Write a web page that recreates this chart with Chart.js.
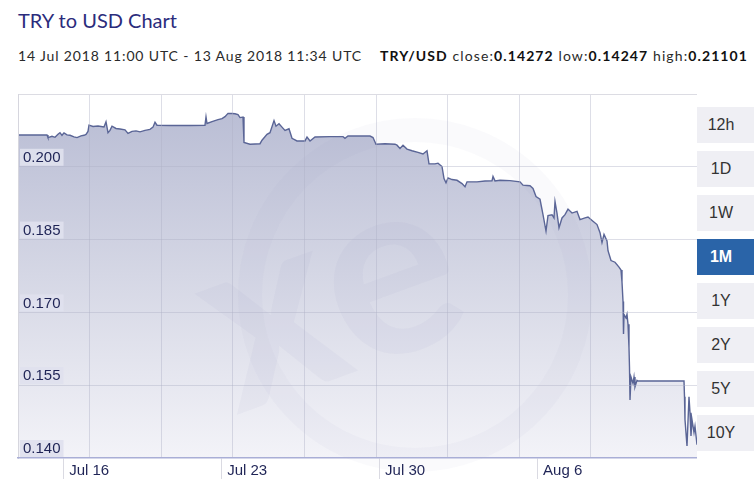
<!DOCTYPE html>
<html><head><meta charset="utf-8">
<script src="https://cdn.jsdelivr.net/npm/chart.js@4.4.1/dist/chart.umd.min.js"></script>
<style>
html,body{margin:0;padding:0;background:#fff;}
#wrap{position:relative;width:754px;height:491px;overflow:hidden;font-family:Lato,"Open Sans",sans-serif;}
#title{position:absolute;left:18px;top:8px;font-size:20px;line-height:24px;color:#2b2c7c;white-space:nowrap;}
.sub{position:absolute;top:47px;font-size:14px;line-height:18px;color:#2a2a2a;white-space:nowrap;}
#range{left:18px;}
#stats{left:380px;}
#stats b{color:#111;font-weight:700;}
#cv{position:absolute;left:0;top:80px;}
.btn{position:absolute;left:697px;width:70px;height:36px;background:#efeff4;font-family:"Liberation Sans",Arial,sans-serif;font-size:16px;color:#333;}
.btn span{display:block;width:48px;text-align:center;line-height:36px;}
.btn.active{background:#2a64a8;color:#fff;font-weight:bold;}
</style></head>
<body>
<div id="wrap">
  <div id="title" data-w="159">TRY to USD Chart</div>
  <div id="range" class="sub" data-w="344">14 Jul 2018 11:00 UTC - 13 Aug 2018 11:34 UTC</div>
  <div id="stats" class="sub" data-w="368"><b>TRY/USD</b> close:<b>0.14272</b> low:<b>0.14247</b> high:<b>0.21101</b></div>
  <canvas id="cv" width="697" height="411"></canvas>
  <div id="btns"></div>
</div>
<script>
// ---- data (days since chart start, TRY/USD rate) ----
const dayOffsets = [0,1.285,1.329,1.506,1.639,1.772,1.861,1.949,2.038,2.171,2.304,2.481,2.614,2.791,2.924,3.013,3.101,3.146,3.323,3.545,3.810,3.899,3.988,4.076,4.165,4.342,4.519,4.741,4.874,5.051,5.228,5.405,5.627,5.848,5.981,6.070,6.159,6.735,7.621,8.285,8.330,8.374,8.596,8.861,9.039,9.171,9.304,9.482,9.615,9.748,9.836,9.969,10.013,10.279,10.722,10.811,11.032,11.165,11.343,11.431,11.564,11.697,11.830,12.007,12.140,12.362,12.716,12.805,12.938,13.159,13.824,14.400,14.488,14.621,15.596,15.729,15.862,16.261,16.704,16.792,16.925,17.058,17.235,17.457,17.722,17.944,18.122,18.210,18.476,18.609,18.786,18.875,18.963,19.052,19.229,19.451,19.672,19.805,19.894,20.337,20.691,21.001,21.046,21.134,21.356,21.799,22.242,22.375,22.552,22.685,22.818,22.951,23.128,23.261,23.394,23.482,23.660,23.748,23.793,23.881,23.970,24.103,24.236,24.369,24.546,24.767,24.900,25.122,25.255,25.476,25.654,25.787,25.875,25.964,26.097,26.141,26.274,26.451,26.628,26.717,26.761,26.806,26.828,26.850,26.939,26.983,27.027,27.071,27.093,27.116,27.160,27.248,27.293,27.337,27.426,27.470,29.508,29.530,29.552,29.641,29.729,29.774,29.818,29.862,29.951,29.995,30.084];
const rates = [0.20655,0.20655,0.20602,0.20628,0.20608,0.20669,0.20703,0.20649,0.20699,0.20659,0.20649,0.20618,0.20602,0.20638,0.20649,0.20669,0.20730,0.20857,0.20831,0.20841,0.20821,0.20926,0.20703,0.20750,0.20837,0.20790,0.20780,0.20760,0.20689,0.20730,0.20740,0.20720,0.20750,0.20770,0.20817,0.20918,0.20857,0.20851,0.20851,0.20857,0.21028,0.20892,0.20932,0.20973,0.20993,0.21034,0.21101,0.21098,0.21092,0.21074,0.21014,0.21024,0.20501,0.20466,0.20476,0.20547,0.20669,0.20703,0.20953,0.20837,0.20886,0.20817,0.20750,0.20784,0.20588,0.20533,0.20533,0.20614,0.20533,0.20614,0.20622,0.20622,0.20588,0.20634,0.20634,0.20602,0.20466,0.20476,0.20466,0.20446,0.20379,0.20446,0.20365,0.20330,0.20298,0.20264,0.20330,0.20061,0.20061,0.20075,0.20006,0.19757,0.19670,0.19771,0.19737,0.19722,0.19655,0.19589,0.19690,0.19690,0.19706,0.19710,0.19803,0.19710,0.19722,0.19716,0.19690,0.19621,0.19615,0.19609,0.19554,0.19386,0.19331,0.19013,0.18676,0.18993,0.19013,0.18946,0.19284,0.19047,0.18743,0.18946,0.19013,0.19128,0.19047,0.19082,0.18912,0.18946,0.18966,0.18879,0.18810,0.18642,0.18439,0.18607,0.18474,0.18271,0.18068,0.18034,0.17933,0.17872,0.17628,0.17223,0.16554,0.16960,0.16885,0.16960,0.16757,0.16276,0.15871,0.15196,0.15668,0.15535,0.15668,0.15466,0.15601,0.15587,0.15587,0.15263,0.14790,0.14247,0.15263,0.14933,0.14452,0.14790,0.14527,0.14655,0.14272];
const xTickDays = [2, 9, 16, 23];
const xTickLabels = ['Jul 16', 'Jul 23', 'Jul 30', 'Aug 6'];
const yTickValues = [0.140, 0.155, 0.170, 0.185, 0.200];
const yTickLabels = ['0.140', '0.155', '0.170', '0.185', '0.200'];
const rangeButtons = ['12h', '1D', '1W', '1M', '1Y', '2Y', '5Y', '10Y'];
const activeButton = '1M';

// ---- header text fitting ----
document.querySelectorAll('[data-w]').forEach(el => {
  const target = +el.dataset.w;
  const n = el.textContent.length;
  const cur = el.getBoundingClientRect().width;
  el.style.letterSpacing = ((target - cur) / n) + 'px';
});

// ---- buttons ----
const btns = document.getElementById('btns');
rangeButtons.forEach((b, i) => {
  const d = document.createElement('div');
  d.className = 'btn' + (b === activeButton ? ' active' : '');
  d.style.top = (107 + i * 44) + 'px';
  d.innerHTML = '<span>' + b + '</span>';
  btns.appendChild(d);
});

const gridColor = 'rgba(175,177,198,0.42)';

const watermark = {
  id: 'watermark',
  afterDatasetsDraw(chart) {
    const {ctx} = chart;
    ctx.save();
    ctx.beginPath();
    ctx.arc(415, 215, 165, 0, Math.PI * 2);
    ctx.lineWidth = 24;
    ctx.strokeStyle = 'rgba(130,135,180,0.045)';
    ctx.stroke();
    ctx.translate(330, 215);
    ctx.rotate(-0.35);
    ctx.font = 'bold 250px Lato, sans-serif';
    ctx.fillStyle = 'rgba(130,135,180,0.06)';
    ctx.textAlign = 'center';
    ctx.textBaseline = 'middle';
    ctx.fillText('xe', 0, 0);
    ctx.restore();
  }
};

new Chart(document.getElementById('cv'), {
  type: 'line',
  data: {
    datasets: [{
      data: dayOffsets.map((d, i) => ({x: d, y: rates[i]})),
      borderColor: '#5a6596',
      borderWidth: 1.4,
      pointRadius: 0,
      tension: 0,
      fill: 'start',
      backgroundColor: (c) => {
        const a = c.chart.chartArea;
        if (!a) return 'rgba(190,193,215,0.8)';
        const g = c.chart.ctx.createLinearGradient(0, a.top, 0, a.bottom);
        g.addColorStop(0, 'rgb(183,187,211)');
        g.addColorStop(0.5, 'rgb(213,215,229)');
        g.addColorStop(1, 'rgb(243,243,248)');
        return g;
      }
    }]
  },
  options: {
    responsive: false,
    devicePixelRatio: 1,
    animation: false,
    layout: {padding: {left: 8, top: 9, right: 0, bottom: 0}},
    plugins: {legend: {display: false}, tooltip: {enabled: false}, title: {display: false}},
    scales: {
      x: {
        type: 'linear', position: 'bottom', min: 0, max: 30.084,
        afterBuildTicks: s => { s.ticks = xTickDays.map(v => ({value: v})); },
        afterFit: s => { s.height = 33; },
        ticks: {
          align: 'start', labelOffset: 6, padding: -17, maxRotation: 0, autoSkip: false,
          font: {family: 'Liberation Sans', size: 15}, color: '#1f2456', z: 2,
          callback: (v, i) => xTickLabels[i]
        },
        grid: {drawOnChartArea: false, drawTicks: true, tickLength: 21, color: '#dadae2', z: 2},
        border: {color: '#a9aed6', width: 1.5, z: 3}
      },
      xg: {
        type: 'linear', position: 'top', min: 0, max: 9.483,
        afterFit: s => { s.height = 0; },
        ticks: {display: false, stepSize: 1},
        grid: {drawTicks: false, color: gridColor, z: 1},
        border: {color: '#dcdce3', z: 1}
      },
      y: {
        min: 0.14, max: 0.215,
        afterBuildTicks: s => { s.ticks = yTickValues.map(v => ({value: v})); },
        afterFit: s => { s.width = 10; },
        ticks: {
          mirror: true, padding: 5, labelOffset: -9, z: 2,
          font: {family: 'Liberation Sans', size: 15}, color: '#1f2456',
          showLabelBackdrop: true, backdropColor: 'rgba(224,225,238,0.92)',
          backdropPadding: {top: 0, bottom: -1, left: 3, right: 3},
          callback: (v, i) => yTickLabels[i]
        },
        grid: {drawTicks: false, z: 1, color: c => (c.tick && c.tick.value === 0.14) ? 'rgba(0,0,0,0)' : gridColor},
        border: {color: '#d6d6de', z: 1}
      }
    }
  },
  plugins: [watermark]
});
</script>
</body></html>
